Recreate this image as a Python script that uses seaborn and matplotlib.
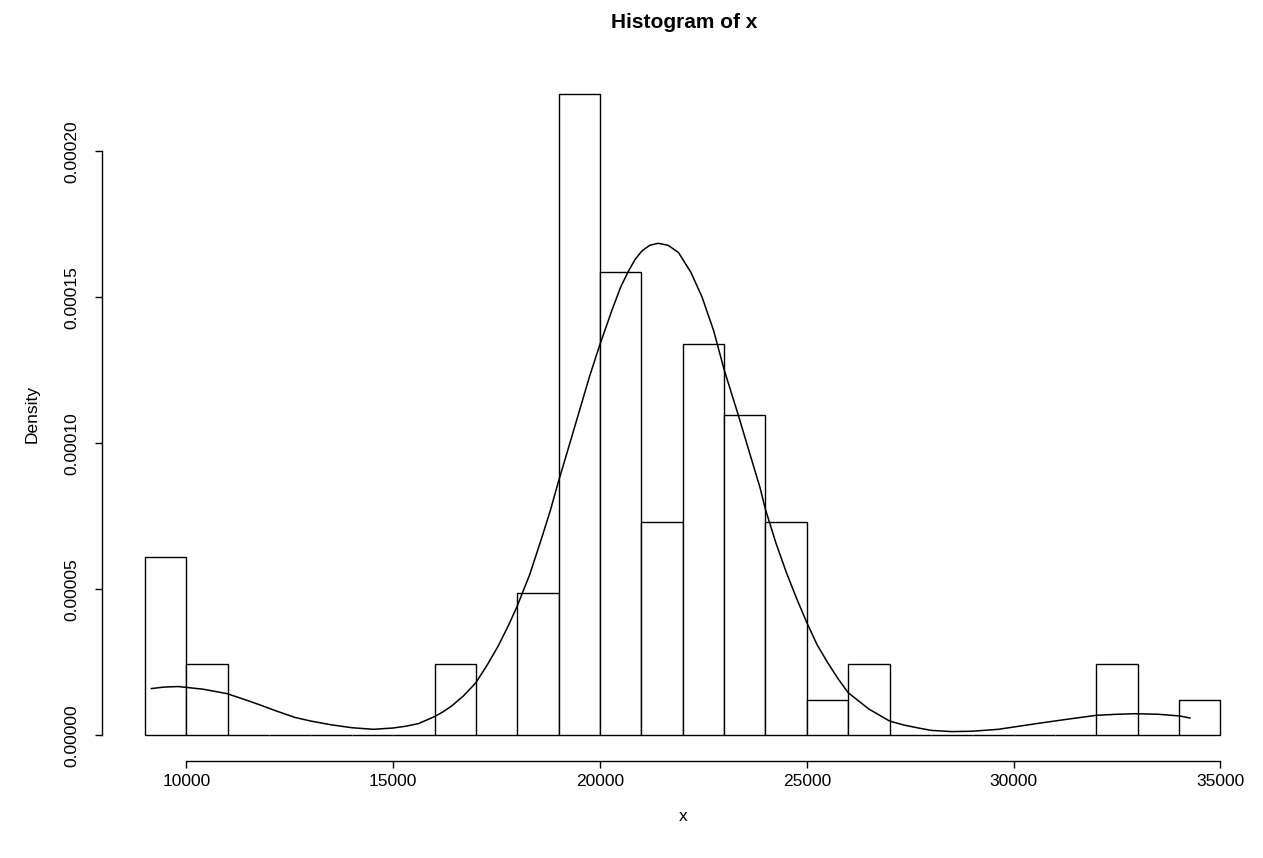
import numpy as np
import pandas as pd
import matplotlib
matplotlib.use('Agg')
import matplotlib.pyplot as plt
import seaborn as sns

# histogram: bin edges (width 1000) and counts per bin (n = 82)
bin_left = [9000, 10000, 11000, 12000, 13000, 14000, 15000, 16000, 17000, 18000,
            19000, 20000, 21000, 22000, 23000, 24000, 25000, 26000, 27000, 28000,
            29000, 30000, 31000, 32000, 33000, 34000]
counts = [5, 2, 0, 0, 0, 0, 0, 2, 0, 4,
          18, 13, 6, 11, 9, 6, 1, 2, 0, 0,
          0, 0, 0, 2, 0, 1]

# overlaid density curve (y in units of 1e-5)
curve_x = [9150, 9450, 9800, 10400, 10975, 11400, 11800, 12200, 12630, 13000,
           13500, 14000, 14520, 15000, 15300, 15610, 16000, 16200, 16410, 16700,
           17000, 17270, 17540, 17800, 18000, 18300, 18580, 18800, 19000, 19250,
           19500, 19750, 20000, 20300, 20500, 20690, 20850, 21010, 21200, 21410,
           21650, 21900, 22200, 22470, 22750, 23000, 23350, 23600, 23870, 24000,
           24250, 24500, 24750, 25000, 25250, 25500, 25750, 26000, 26500, 27000,
           27350, 27700, 28000, 28500, 29000, 29630, 30600, 31300, 32000, 32500,
           32940, 33500, 34030, 34270]
curve_y = [1.60, 1.65, 1.67, 1.58, 1.43, 1.23, 1.03, 0.82, 0.61, 0.49,
           0.36, 0.26, 0.205, 0.25, 0.31, 0.40, 0.64, 0.80, 1.00, 1.35,
           1.80, 2.40, 3.06, 3.80, 4.43, 5.50, 6.71, 7.70, 8.71, 9.90,
           11.1, 12.3, 13.39, 14.6, 15.35, 15.9, 16.3, 16.58, 16.78, 16.85,
           16.78, 16.53, 15.85, 15.0, 13.85, 12.53, 10.94, 9.75, 8.48, 7.74,
           6.60, 5.60, 4.70, 3.86, 3.10, 2.50, 1.95, 1.46, 0.90, 0.49,
           0.35, 0.25, 0.17, 0.127, 0.14, 0.205, 0.41, 0.55, 0.685, 0.72,
           0.74, 0.72, 0.66, 0.59]
curve_y = [v * 1e-5 for v in curve_y]

yticks = [0.0, 0.00005, 0.00010, 0.00015, 0.00020]
ytick_labels = ['0.00000', '0.00005', '0.00010', '0.00015', '0.00020']
xticks = [10000, 15000, 20000, 25000, 30000, 35000]

sns.set_theme(style='white')
plt.rcParams['font.family'] = ['Liberation Sans', 'DejaVu Sans']
plt.rcParams['text.color'] = 'black'
plt.rcParams['axes.labelcolor'] = 'black'

hist_df = pd.DataFrame({'x': [b + 500 for b in bin_left], 'n': counts})
edges = bin_left + [bin_left[-1] + 1000]

fig = plt.figure(figsize=(12.63, 8.58), dpi=100)
ax = fig.add_axes([102 / 1263, 1 - 761 / 858, 1161.4 / 1263, 693.8 / 858])

sns.histplot(data=hist_df, x='x', weights='n', bins=edges, stat='density',
             color='white', edgecolor='black', linewidth=1.0, alpha=1, ax=ax)
sns.lineplot(x=curve_x, y=curve_y, color='black', linewidth=1.1, ax=ax)

ax.set_xlim(7960, 36040)
ax.set_ylim(-8.8e-6, 2.288e-4)

for side in ['top', 'right']:
    ax.spines[side].set_visible(False)
for side in ['left', 'bottom']:
    ax.spines[side].set_color('black')
    ax.spines[side].set_linewidth(1.0)
ax.spines['left'].set_bounds(0, 0.0002)
ax.spines['bottom'].set_bounds(10000, 35000)

ax.set_xticks(xticks)
ax.set_xticklabels([str(t) for t in xticks])
ax.set_yticks(yticks)
ax.set_yticklabels(ytick_labels, rotation=90, va='center')
ax.tick_params(axis='both', direction='out', length=5, width=1.0, color='black',
               labelsize=12.5, labelcolor='black', left=True, bottom=True)
ax.tick_params(axis='x', pad=4)
ax.tick_params(axis='y', pad=11)

ax.set_xlabel('x', fontsize=12.5, labelpad=15)
ax.set_ylabel('Density', fontsize=12.5, labelpad=18)
fig.text(684 / 1263, 1 - 22 / 858, 'Histogram of x', ha='center', va='center',
         fontsize=15, fontweight='bold', color='black')

fig.savefig('out.png', dpi=100)
